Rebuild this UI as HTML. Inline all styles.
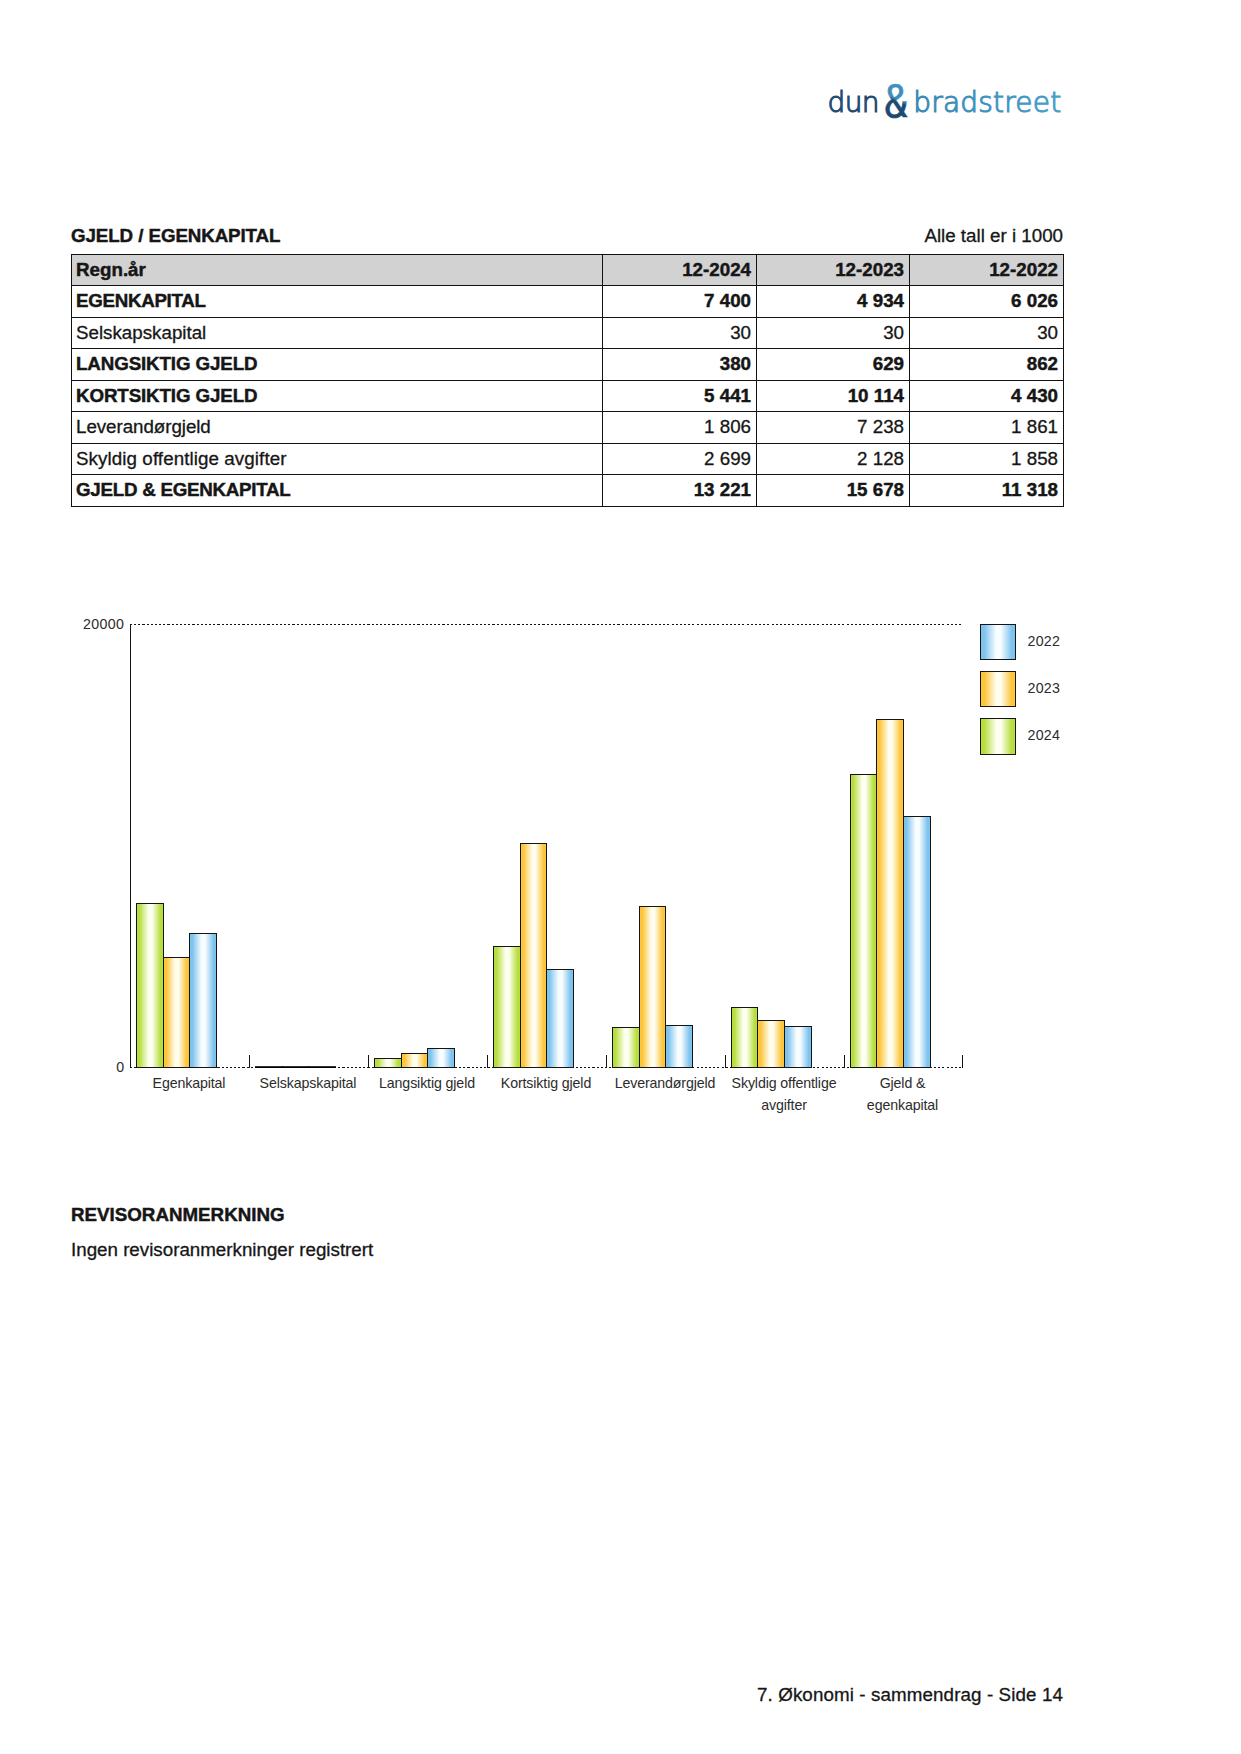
<!DOCTYPE html>
<html lang="no">
<head>
<meta charset="utf-8">
<title>7. Økonomi - sammendrag - Side 14</title>
<style>
html,body{margin:0;padding:0;background:#fff;}
body{width:1241px;height:1754px;position:relative;overflow:hidden;font-family:"Liberation Sans",sans-serif;color:#161616;font-size:18.75px;-webkit-text-stroke:0.3px #161616;font-variant-ligatures:none;}
.page{position:absolute;left:0;top:0;width:1241px;height:1754px;}
.logo{position:absolute;left:820px;top:70px;}
.lt{font-family:"DejaVu Sans Light","DejaVu Sans","Liberation Sans",sans-serif;font-weight:200;font-size:28px;}
.la{font-family:"IPAGothic","Liberation Sans",sans-serif;font-size:45px;}
h2{position:absolute;margin:0;font-size:18.75px;font-weight:bold;-webkit-text-stroke:0.45px #161616;line-height:22px;white-space:nowrap;}
.t1{left:71px;top:225px;letter-spacing:-0.12px;word-spacing:0.2px;}
.note{position:absolute;right:178px;top:225px;line-height:22px;white-space:nowrap;}
table.fin{position:absolute;left:71px;top:254px;width:993px;border-collapse:collapse;table-layout:fixed;}
table.fin td,table.fin th{border:1px solid #111;padding:4px 5px 0 4px;text-align:right;vertical-align:top;font-weight:normal;line-height:21px;white-space:nowrap;overflow:hidden;box-sizing:border-box;}
table.fin .l{text-align:left;}
table.fin tr.b td,table.fin tr.h th{font-weight:bold;-webkit-text-stroke:0.45px #161616;}
table.fin tr.h th{background:#d2d2d2;}
.chart{position:absolute;left:0;top:590px;}
.ct{font-family:"Liberation Sans",sans-serif;font-size:14.2px;fill:#2c2c2c;letter-spacing:-0.12px;}
.t2{left:71px;top:1204px;}
.p{position:absolute;left:71px;top:1239px;line-height:22px;white-space:nowrap;}
.foot{position:absolute;right:178px;top:1683.6px;line-height:22px;white-space:nowrap;letter-spacing:0.115px;}
</style>
</head>
<body>
<div class="page">
<svg class="logo" width="260" height="60" viewBox="820 70 260 60">
<defs><linearGradient id="lg2" gradientUnits="userSpaceOnUse" x1="915" x2="1062" y1="0" y2="0"><stop offset="0" stop-color="#3b88b4"/><stop offset="1" stop-color="#4b9fca"/></linearGradient>
<linearGradient id="amp" gradientUnits="userSpaceOnUse" x1="19" x2="3" y1="-36" y2="0"><stop offset="0" stop-color="#3f8fba"/><stop offset="0.44" stop-color="#3f8fba"/><stop offset="0.52" stop-color="#1d4a73"/><stop offset="1" stop-color="#1d4a73"/></linearGradient></defs>
<text class="lt" x="827.6" y="111.7" fill="#1f4b75" stroke="#1f4b75" stroke-width="1.1" textLength="51.8" lengthAdjust="spacing">dun</text>
<text class="la" transform="translate(883.6 118.6) scale(1.1 1)" fill="url(#amp)" stroke="url(#amp)" stroke-width="0.6">&amp;</text>
<text class="lt" x="913.2" y="111.7" fill="url(#lg2)" stroke="url(#lg2)" stroke-width="1.1" textLength="148" lengthAdjust="spacing">bradstreet</text>
</svg>
<h2 class="t1">GJELD / EGENKAPITAL</h2>
<div class="note">Alle tall er i 1000</div>
<table class="fin"><colgroup><col style="width:531px"><col style="width:154px"><col style="width:153px"><col style="width:154px"></colgroup>
<tr class="h" style="height:31px"><th class="l">Regn.år</th><th>12-2024</th><th>12-2023</th><th>12-2022</th></tr>
<tr class="b" style="height:32px"><td class="l" style="letter-spacing:-0.3px">EGENKAPITAL</td><td>7 400</td><td>4 934</td><td>6 026</td></tr>
<tr class="" style="height:31px"><td class="l">Selskapskapital</td><td>30</td><td>30</td><td>30</td></tr>
<tr class="b" style="height:32px"><td class="l" style="letter-spacing:-0.12px">LANGSIKTIG GJELD</td><td>380</td><td>629</td><td>862</td></tr>
<tr class="b" style="height:31px"><td class="l" style="letter-spacing:-0.12px">KORTSIKTIG GJELD</td><td>5 441</td><td>10 114</td><td>4 430</td></tr>
<tr class="" style="height:32px"><td class="l" style="letter-spacing:-0.05px">Leverandørgjeld</td><td>1 806</td><td>7 238</td><td>1 861</td></tr>
<tr class="" style="height:31px"><td class="l" style="letter-spacing:0.09px">Skyldig offentlige avgifter</td><td>2 699</td><td>2 128</td><td>1 858</td></tr>
<tr class="b" style="height:32px"><td class="l" style="letter-spacing:-0.26px">GJELD &amp; EGENKAPITAL</td><td>13 221</td><td>15 678</td><td>11 318</td></tr>
</table>
<svg class="chart" width="1241" height="560" viewBox="0 590 1241 560">
<defs>
<linearGradient id="gG" x1="0" x2="1" y1="0" y2="0"><stop offset="0" stop-color="#b7de3f"/><stop offset="0.11" stop-color="#b7de3f"/><stop offset="0.45" stop-color="#fdfff0"/><stop offset="0.58" stop-color="#fdfff0"/><stop offset="0.89" stop-color="#b7de3f"/><stop offset="1" stop-color="#b7de3f"/></linearGradient>
<linearGradient id="gO" x1="0" x2="1" y1="0" y2="0"><stop offset="0" stop-color="#fcc53a"/><stop offset="0.11" stop-color="#fcc53a"/><stop offset="0.45" stop-color="#fffdee"/><stop offset="0.58" stop-color="#fffdee"/><stop offset="0.89" stop-color="#fcc53a"/><stop offset="1" stop-color="#fcc53a"/></linearGradient>
<linearGradient id="gB" x1="0" x2="1" y1="0" y2="0"><stop offset="0" stop-color="#7ec3ee"/><stop offset="0.11" stop-color="#7ec3ee"/><stop offset="0.45" stop-color="#f8fdff"/><stop offset="0.58" stop-color="#f8fdff"/><stop offset="0.89" stop-color="#7ec3ee"/><stop offset="1" stop-color="#7ec3ee"/></linearGradient>
</defs>
<g stroke="#141414" stroke-width="1" fill="none" shape-rendering="crispEdges">
<line x1="130.0" y1="624.5" x2="962.0" y2="624.5" stroke-dasharray="2.083 2.083"/>
<line x1="130.0" y1="1067.5" x2="962.0" y2="1067.5" stroke-dasharray="2.083 2.083"/>
<line x1="130.5" y1="624.0" x2="130.5" y2="1068.0"/>
<line x1="249.5" y1="1055.0" x2="249.5" y2="1068.0"/>
<line x1="368.5" y1="1055.0" x2="368.5" y2="1068.0"/>
<line x1="487.5" y1="1055.0" x2="487.5" y2="1068.0"/>
<line x1="606.5" y1="1055.0" x2="606.5" y2="1068.0"/>
<line x1="725.5" y1="1055.0" x2="725.5" y2="1068.0"/>
<line x1="844.5" y1="1055.0" x2="844.5" y2="1068.0"/>
<line x1="962.5" y1="1055.0" x2="962.5" y2="1068.0"/>
</g>
<g stroke="#141414" stroke-width="1">
<rect x="136.5" y="903.5" width="27" height="164.0" fill="url(#gG)"/>
<rect x="163.5" y="957.5" width="26" height="110.0" fill="url(#gO)"/>
<rect x="189.5" y="933.5" width="27" height="134.0" fill="url(#gB)"/>
<rect x="255.0" y="1066.20" width="28" height="1.8" fill="#000" stroke="none"/>
<rect x="282.0" y="1066.20" width="27" height="1.8" fill="#000" stroke="none"/>
<rect x="308.0" y="1066.20" width="28" height="1.8" fill="#000" stroke="none"/>
<rect x="374.5" y="1058.5" width="27" height="9.0" fill="url(#gG)"/>
<rect x="401.5" y="1053.5" width="26" height="14.0" fill="url(#gO)"/>
<rect x="427.5" y="1048.5" width="27" height="19.0" fill="url(#gB)"/>
<rect x="493.5" y="946.5" width="27" height="121.0" fill="url(#gG)"/>
<rect x="520.5" y="843.5" width="26" height="224.0" fill="url(#gO)"/>
<rect x="546.5" y="969.5" width="27" height="98.0" fill="url(#gB)"/>
<rect x="612.5" y="1027.5" width="27" height="40.0" fill="url(#gG)"/>
<rect x="639.5" y="906.5" width="26" height="161.0" fill="url(#gO)"/>
<rect x="665.5" y="1025.5" width="27" height="42.0" fill="url(#gB)"/>
<rect x="731.5" y="1007.5" width="26" height="60.0" fill="url(#gG)"/>
<rect x="757.5" y="1020.5" width="27" height="47.0" fill="url(#gO)"/>
<rect x="784.5" y="1026.5" width="27" height="41.0" fill="url(#gB)"/>
<rect x="850.5" y="774.5" width="26" height="293.0" fill="url(#gG)"/>
<rect x="876.5" y="719.5" width="27" height="348.0" fill="url(#gO)"/>
<rect x="903.5" y="816.5" width="27" height="251.0" fill="url(#gB)"/>
</g>
<rect x="980.5" y="624.5" width="35" height="35" fill="url(#gB)" stroke="#141414" stroke-width="1"/>
<text class="ct" x="1027.5" y="646.0" style="letter-spacing:0.25px">2022</text>
<rect x="980.5" y="671.5" width="35" height="35" fill="url(#gO)" stroke="#141414" stroke-width="1"/>
<text class="ct" x="1027.5" y="693.0" style="letter-spacing:0.25px">2023</text>
<rect x="980.5" y="718.5" width="35" height="36" fill="url(#gG)" stroke="#141414" stroke-width="1"/>
<text class="ct" x="1027.5" y="740.0" style="letter-spacing:0.25px">2024</text>
<text class="ct" x="124.4" y="629.3" text-anchor="end" style="letter-spacing:0.4px">20000</text>
<text class="ct" x="124" y="1072.3" text-anchor="end">0</text>
<text class="ct" x="189.0" y="1087.9" text-anchor="middle">Egenkapital</text>
<text class="ct" x="308.0" y="1087.9" text-anchor="middle">Selskapskapital</text>
<text class="ct" x="427.0" y="1087.9" text-anchor="middle">Langsiktig gjeld</text>
<text class="ct" x="546.0" y="1087.9" text-anchor="middle">Kortsiktig gjeld</text>
<text class="ct" x="665.0" y="1087.9" text-anchor="middle">Leverandørgjeld</text>
<text class="ct" x="784.0" y="1087.9" text-anchor="middle">Skyldig offentlige</text>
<text class="ct" x="784.0" y="1109.8" text-anchor="middle">avgifter</text>
<text class="ct" x="902.5" y="1087.9" text-anchor="middle">Gjeld &amp;</text>
<text class="ct" x="902.5" y="1109.8" text-anchor="middle">egenkapital</text>
</svg>
<h2 class="t2">REVISORANMERKNING</h2>
<div class="p">Ingen revisoranmerkninger registrert</div>
<div class="foot">7. Økonomi - sammendrag - Side 14</div>
</div>
</body>
</html>
